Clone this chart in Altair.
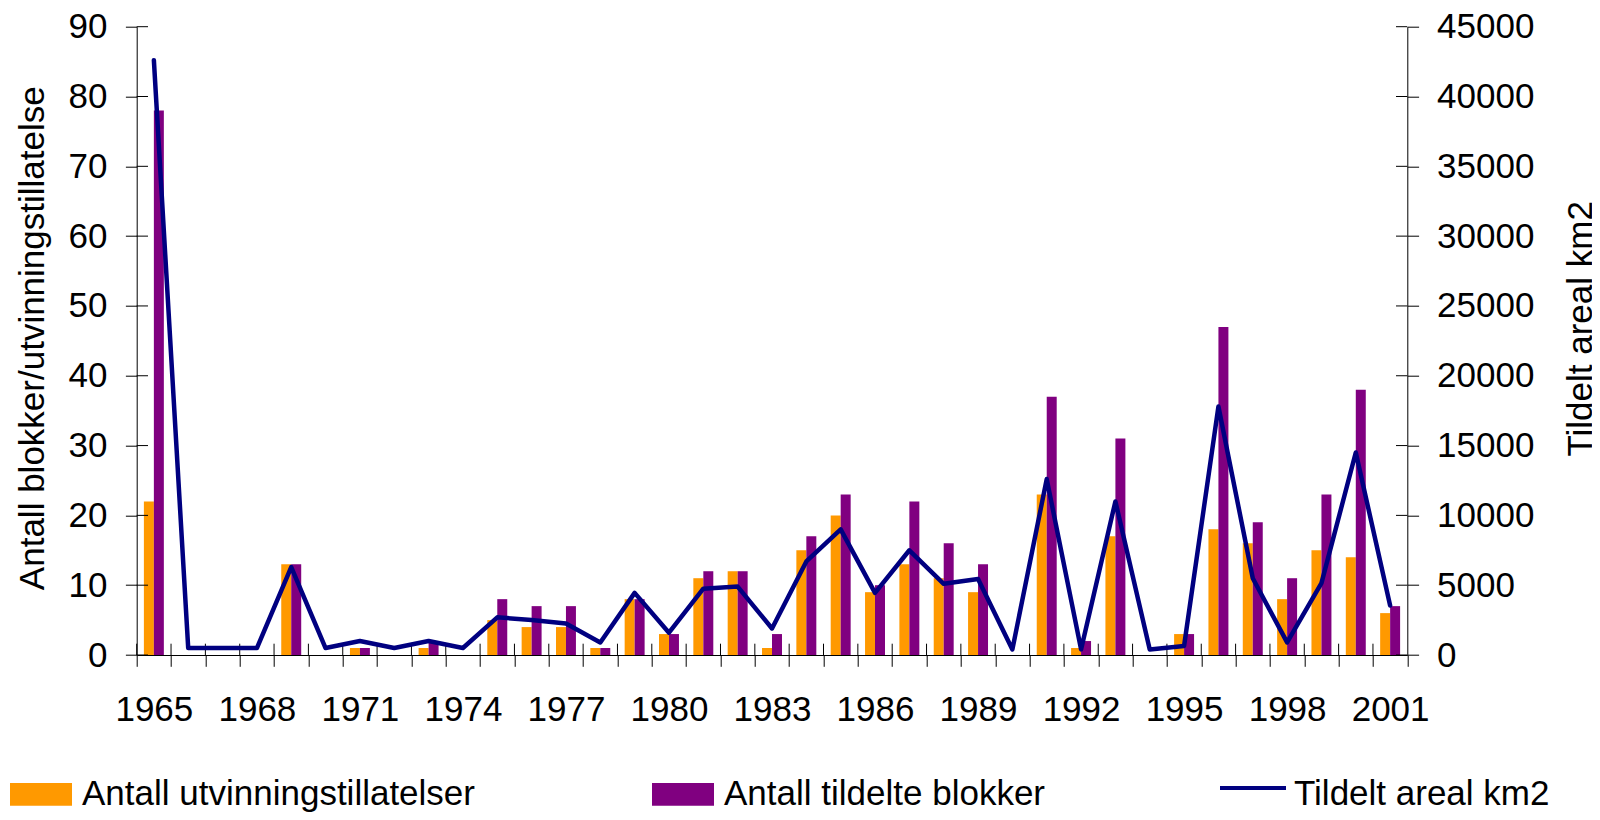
import altair as alt
import pandas as pd

# ---------------- data ----------------
years = list(range(1965, 2002))
tillatelser = [22, 0, 0, 0, 13, 0, 1, 0, 1, 0, 5, 4, 4, 1, 8, 3, 11, 12, 1, 15,
               20, 9, 13, 11, 9, 0, 23, 1, 17, 0, 3, 18, 16, 8, 15, 14, 6]
blokker = [78, 0, 0, 0, 13, 0, 1, 0, 2, 0, 8, 7, 7, 1, 8, 3, 12, 12, 3, 17,
           23, 10, 22, 16, 13, 0, 37, 2, 31, 0, 3, 47, 19, 11, 23, 38, 7]
areal = [42600, 500, 500, 500, 6300, 500, 1000, 500, 1000, 500, 2700, 2500, 2250, 900,
         4450, 1600, 4750, 4900, 1900, 6700, 9000, 4450, 7500, 5100, 5450, 400,
         12600, 400, 11000, 400, 650, 17800, 5500, 900, 5150, 14500, 3550]
bar_series = ["Antall utvinningstillatelser", "Antall tildelte blokker"]
bar_colors = ["#FF9900", "#800080"]
line_series = "Tildelt areal km2"
line_color = "#000080"
left_ticks = [0, 10, 20, 30, 40, 50, 60, 70, 80, 90]
right_ticks = [0, 5000, 10000, 15000, 20000, 25000, 30000, 35000, 40000, 45000]
left_title = "Antall blokker/utvinningstillatelse"
right_title = "Tildelt areal km2"

bar_df = pd.DataFrame({
    "year": years * 2,
    "series": [bar_series[0]] * len(years) + [bar_series[1]] * len(years),
    "value": tillatelser + blokker,
})
line_df = pd.DataFrame({"year": years, "areal": areal, "series": [line_series] * len(years)})
lt_df = pd.DataFrame({"value": left_ticks})
rt_df = pd.DataFrame({"areal": right_ticks})
yr_df = pd.DataFrame({"year": years})

# ---------------- layout ----------------
FONT = "Liberation Sans"
FS = 35
W, H = 1270.6, 628.3
TICK = 11.3

x_scale = alt.Scale(paddingInner=0, paddingOuter=0)
x_axis = alt.Axis(
    title=None, tickBand="extent", labelAngle=0, labelOverlap=False,
    labelExpr="(datum.value - 1965) % 3 == 0 ? datum.label : ''",
    tickSize=TICK, labelPadding=26,
)
x_enc = alt.X("year:O", scale=x_scale, axis=x_axis)

y_left = alt.Y(
    "value:Q",
    scale=alt.Scale(domain=[0, 90], nice=False, zero=True),
    axis=alt.Axis(
        values=left_ticks, title=left_title, tickSize=TICK, labelPadding=18.4,
        titleAngle=270, titleBaseline="alphabetic", titleAlign="center",
        titleX=-93.4, titleY=311,
    ),
)
y_right = alt.Y(
    "areal:Q",
    scale=alt.Scale(domain=[0, 45000], nice=False, zero=True),
    axis=alt.Axis(
        orient="right", values=right_ticks, format="d", title=right_title,
        tickSize=TICK, labelPadding=18,
        titleAngle=270, titleBaseline="alphabetic", titleAlign="center",
        titleX=184.7, titleY=301.6,
    ),
)

bars = alt.Chart(bar_df).mark_bar(strokeWidth=0).encode(
    x=x_enc,
    xOffset=alt.XOffset("series:N", sort=bar_series,
                        scale=alt.Scale(domain=bar_series, paddingInner=0, paddingOuter=0.72)),
    y=y_left,
    fill=alt.Fill(
        "series:N", sort=bar_series,
        scale=alt.Scale(domain=bar_series, range=bar_colors),
        legend=alt.Legend(
            title=None, orient="none", legendX=-126.7, legendY=736.7,
            direction="horizontal", columns=2, columnPadding=177,
            symbolType="M-1,-0.37H1V0.37H-1Z", symbolSize=3844, symbolStrokeWidth=0,
            symbolOpacity=1, labelFont=FONT, labelFontSize=FS, labelColor="black",
            labelOffset=10, labelLimit=0, padding=0,
        ),
    ),
)

left_inner_ticks = alt.Chart(lt_df).mark_rule(color="black", strokeWidth=1).encode(
    y=y_left, x=alt.value(0), x2=alt.value(TICK)
)
x_inner_ticks = alt.Chart(yr_df).mark_rule(color="black", strokeWidth=1).encode(
    x=alt.X("year:O", scale=x_scale, axis=x_axis, bandPosition=0),
    y=alt.value(H - TICK), y2=alt.value(H),
)

line = alt.Chart(line_df).mark_line(strokeWidth=4.5, strokeJoin="round", strokeCap="round").encode(
    x=x_enc,
    y=y_right,
    stroke=alt.Stroke(
        "series:N",
        scale=alt.Scale(domain=[line_series], range=[line_color]),
        legend=alt.Legend(
            title=None, orient="none", legendX=1081.3, legendY=732.3,
            symbolType="M-1,-0.18H1", symbolSize=4356, symbolStrokeWidth=4,
            labelFont=FONT, labelFontSize=FS, labelColor="black",
            labelOffset=6, labelLimit=0, padding=0,
        ),
    ),
)
right_inner_ticks = alt.Chart(rt_df).mark_rule(color="black", strokeWidth=1).encode(
    y=y_right, x=alt.value(W - TICK), x2=alt.value(W)
)

left_layer = alt.layer(bars, left_inner_ticks, x_inner_ticks)
right_layer = alt.layer(line, right_inner_ticks)

chart = (
    alt.layer(left_layer, right_layer)
    .resolve_scale(y="independent")
    .properties(
        width=W, height=H,
        autosize=alt.AutoSizeParams(type="none"),
        padding={"left": 128.7, "top": 18.7, "right": 184.7, "bottom": 157},
        background="white",
    )
    .configure_view(stroke=None)
    .configure_axis(
        domainColor="black", tickColor="black", labelColor="black", titleColor="black",
        labelFont=FONT, titleFont=FONT, labelFontSize=FS, titleFontSize=FS,
        titleFontWeight="normal", grid=False, tickWidth=1, domainWidth=1,
    )
)

chart.save("out.html", embed_options={"renderer": "svg", "actions": False})
